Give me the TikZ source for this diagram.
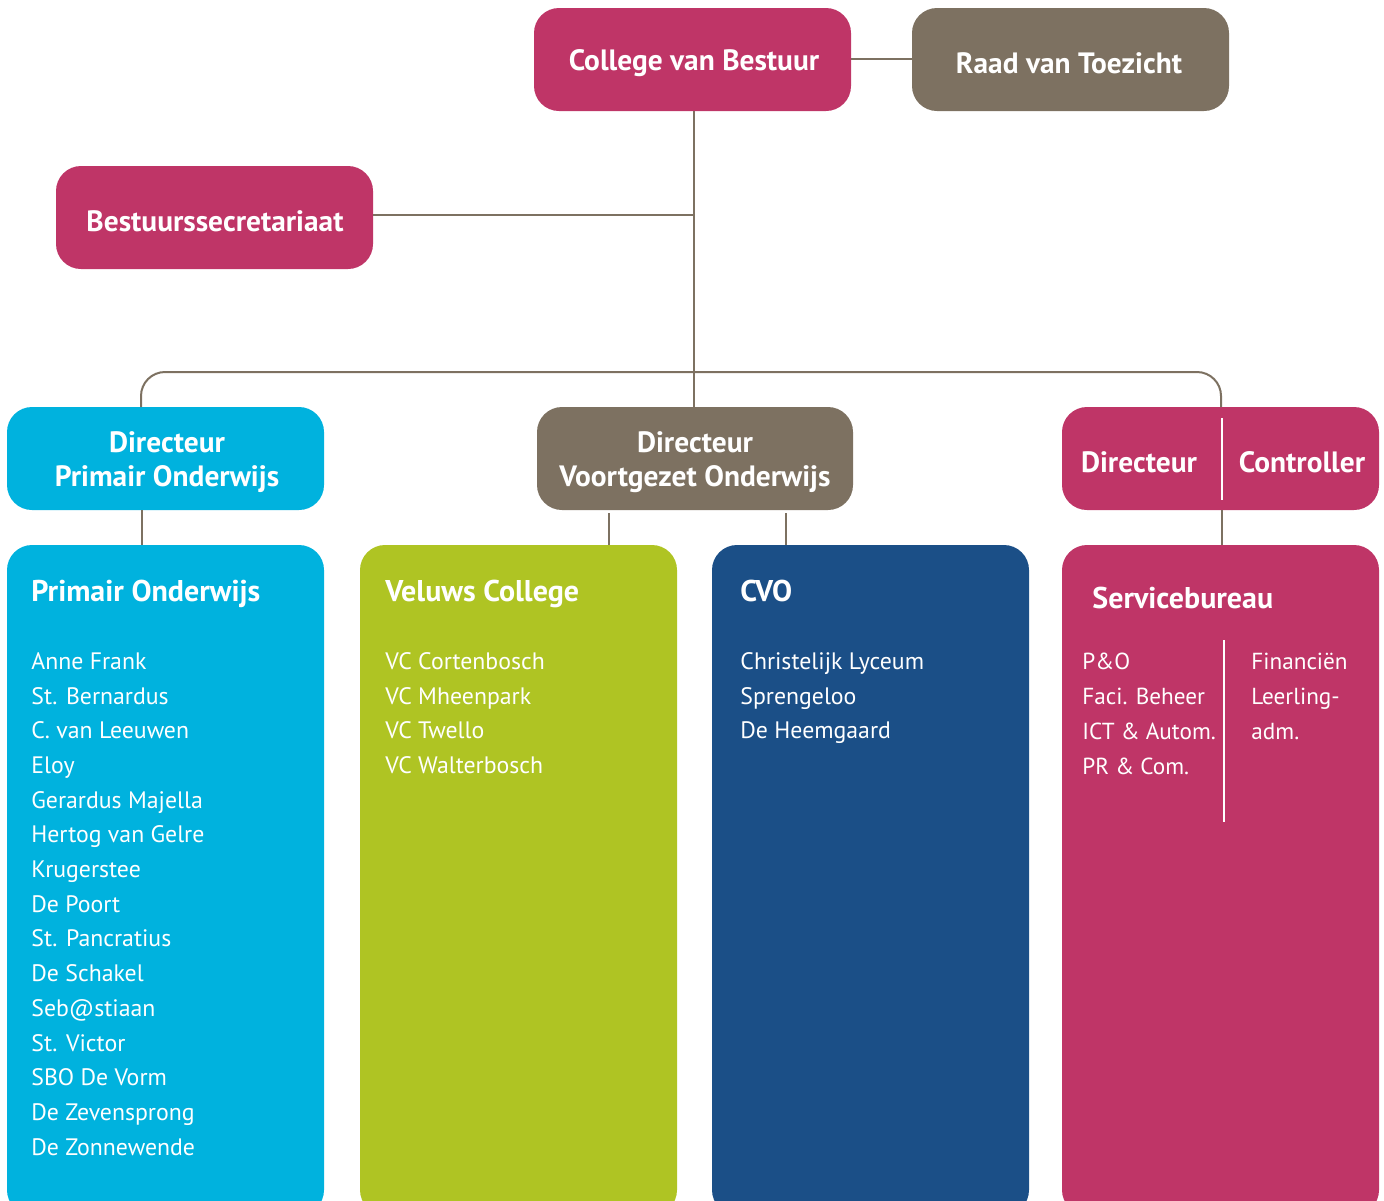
\documentclass[tikz,border=0pt]{standalone}
\usepackage{fontspec}
\setmainfont{PT Sans}
\definecolor{crimson}{HTML}{BF3567}
\definecolor{taupe}{HTML}{7D7161}
\definecolor{cyanb}{HTML}{00B2DE}
\definecolor{lime}{HTML}{AFC423}
\definecolor{navy}{HTML}{1B4F87}
\begin{document}
\begin{tikzpicture}[x=0.5pt,y=-0.5pt,
  box/.style={rounded corners=12.5pt,draw=none},
  title/.style={text=white,font=\bfseries\fontsize{14.7}{17}\selectfont,align=center,inner sep=0pt},
  head/.style={text=white,font=\bfseries\fontsize{15}{18}\selectfont,anchor=west,inner sep=0pt,text height=11pt,text depth=3.5pt},
  list/.style={text=white,font=\fontsize{11.9}{17.35}\selectfont,align=left,anchor=north west,inner sep=0pt},
  conn/.style={draw=taupe,line width=1pt}]
\useasboundingbox (0,0) rectangle (1384,1200);
\begin{scope}
\clip (0,0) rectangle (1384,1200);
% top row
\fill[crimson,box] (534,8) rectangle (851,111);
\fill[taupe,box] (912,8) rectangle (1229,111);
\fill[crimson,box] (56,166) rectangle (373,269);
% directors
\fill[cyanb,box] (7,407) rectangle (324,510);
\fill[taupe,box] (537,407) rectangle (853,510);
\fill[crimson,box] (1062,407) rectangle (1379,510);
% bottom
\fill[cyanb,box] (7,545) rectangle (324,1215);
\fill[lime,box] (360,545) rectangle (677,1215);
\fill[navy,box] (712,545) rectangle (1029,1215);
\fill[crimson,box] (1062,545) rectangle (1379,1215);
\end{scope}
\node[title] (cvbT) at (694,63) {College van Bestuur};
\node[title] (rvtT) at (1069,63) {Raad van Toezicht};
\node[title] (bsT) at (215,221) {Bestuurssecretariaat};
\node[title] (dpoT) at (167,462) {Directeur\\Primair Onderwijs};
\node[title] (dvoT) at (695,462) {Directeur\\Voortgezet Onderwijs};
\node[title] (dirT) at (1139,462) {Directeur};
\node[title] (conT) at (1302,462) {Controller};
% connectors
\coordinate (cvbR) at (851,59);
\coordinate (rvtL) at (912,59);
\coordinate (cvbB) at (694,111);
\coordinate (bsR) at (373,215);
\coordinate (bsJ) at (694,215);
\coordinate (dvoTop) at (694,407);
\coordinate (dpoTop) at (141,407);
\coordinate (dscTop) at (1221,407);
\coordinate (trunkH) at (694,372);
\coordinate (dpoB) at (142,510);
\coordinate (poT) at (142,545);
\coordinate (dvoB1) at (609,513);
\coordinate (vcT) at (609,545);
\coordinate (dvoB2) at (786,513);
\coordinate (cvoT) at (786,545);
\coordinate (dscB) at (1222,510);
\coordinate (sbT) at (1222,545);
\draw[conn] (cvbR) -- (rvtL);
\draw[conn] (cvbB) -- (dvoTop);
\draw[conn] (bsR) -- (bsJ);
\draw[conn,rounded corners=12pt] (dpoTop) |- (trunkH) -| (dscTop);
\draw[conn] (dpoB) -- (poT);
\draw[conn] (dvoB1) -- (vcT);
\draw[conn] (dvoB2) -- (cvoT);
\draw[conn] (dscB) -- (sbT);
\draw[white,line width=1pt] (1222,418) -- (1222,500);
\draw[white,line width=1pt] (1224,640) -- (1224,822);
% bottom headings
\node[head] (poH) at (31,594) {Primair Onderwijs};
\node[head] (vcH) at (385,594) {Veluws College};
\node[head] (cvoH) at (740,594) {CVO};
\node[head] (sbH) at (1092,601) {Servicebureau};
\node[list] (poL) at (31,652) {Anne Frank\\St. Bernardus\\C. van Leeuwen\\Eloy\\Gerardus Majella\\Hertog van Gelre\\Krugerstee\\De Poort\\St. Pancratius\\De Schakel\\Seb@stiaan\\St. Victor\\SBO De Vorm\\De Zevensprong\\De Zonnewende};
\node[list] (vcL) at (385,652) {VC Cortenbosch\\VC Mheenpark\\VC Twello\\VC Walterbosch};
\node[list] (cvoL) at (740,652) {Christelijk Lyceum\\Sprengeloo\\De Heemgaard};
\node[list,font=\fontsize{11.6}{17.35}\selectfont] (sbL) at (1082,653) {P\&O\\Faci. Beheer\\ICT \& Autom.\\PR \& Com.};
\node[list,font=\fontsize{11.6}{17.35}\selectfont] (sbR) at (1251,653) {Financiën\\Leerling-\\adm.};
\end{tikzpicture}
\end{document}
